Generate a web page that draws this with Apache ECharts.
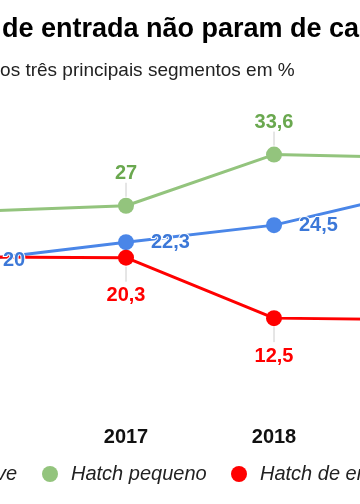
<!DOCTYPE html>
<html>
<head>
<meta charset="utf-8">
<script src="https://cdn.jsdelivr.net/npm/echarts@6/dist/echarts.min.js"></script>
<style>
html,body{margin:0;padding:0;width:360px;height:504px;overflow:hidden;background:#fff;}
#chart{position:absolute;left:-100px;top:0;width:560px;height:504px;}
</style>
</head>
<body>
<div id="chart"></div>
<script>
// ---- data ----
var years = ['2016', '2017', '2018', '2019'];
var seriesNames = ['SUV leve', 'Hatch pequeno', 'Hatch de entrada'];
var blueValues = [20, 22.3, 24.5, 29];
var greenValues = [26.3, 27, 33.6, 33.2];
var redValues = [20.4, 20.3, 12.5, 12.3];
var titleText = 'de entrada não param de cair';
var subtitleText = 'dos três principais segmentos em %';

var FONT = '"Liberation Sans", Arial, sans-serif';
var BLUE = '#4a86e8', BLUE_L = '#3c78d8';
var GREEN = '#93c47d', GREEN_L = '#6aa84f';
var RED = '#ff0000';

function fmt(p) { return String(p.value).replace('.', ','); }

function lineSeries(name, data, color, labelColor, pos, dist) {
  return {
    name: name, type: 'line', data: data, z: 3,
    symbol: 'circle', symbolSize: 16,
    itemStyle: { color: color },
    lineStyle: { color: color, width: 3 },
    label: {
      show: true, position: pos, distance: dist, formatter: fmt,
      color: labelColor, fontFamily: FONT, fontWeight: 'bold', fontSize: 20,
      textBorderColor: '#fff', textBorderWidth: 2
    },
    emphasis: { disabled: true },
    animation: false
  };
}

function guideSeries(data, from, to) {
  return {
    type: 'custom', z: 1, silent: true, animation: false,
    data: data.map(function (v, i) { return [i, v]; }),
    renderItem: function (params, api) {
      var p = api.coord([api.value(0), api.value(1)]);
      return {
        type: 'line',
        shape: { x1: p[0], y1: p[1] + from, x2: p[0], y2: p[1] + to },
        style: { stroke: '#cccccc', lineWidth: 1 }
      };
    }
  };
}

function legendFor(name, pos) {
  return Object.assign({
    data: [name], top: 464, padding: 0, icon: 'circle',
    itemWidth: 16, itemHeight: 16,
    selectedMode: false,
    textStyle: { fontFamily: FONT, fontStyle: 'italic', fontSize: 20, color: '#222', padding: [0, 0, 0, 8] }
  }, pos);
}

var chart = echarts.init(document.getElementById('chart'), null, { renderer: 'canvas' });
chart.setOption({
  backgroundColor: '#fff',
  title: [
    { text: titleText, left: 102, top: 16, padding: 0,
      textStyle: { fontFamily: FONT, fontWeight: 'bold', fontSize: 27, color: '#000' } },
    { text: subtitleText, left: 89.5, top: 61, padding: 0,
      textStyle: { fontFamily: FONT, fontWeight: 'normal', fontSize: 19, color: '#222' } }
  ],
  legend: [
    legendFor(seriesNames[0], { right: 443 }),
    legendFor(seriesNames[1], { left: 142 }),
    legendFor(seriesNames[2], { left: 331 })
  ],
  grid: { left: 78, right: 38, top: 105, bottom: 89, containLabel: false },
  xAxis: {
    type: 'category', data: years, boundaryGap: false,
    axisLine: { show: false }, axisTick: { show: false }, splitLine: { show: false },
    axisLabel: { margin: 12, fontFamily: FONT, fontWeight: 'bold', fontSize: 20, color: '#111' }
  },
  yAxis: { type: 'value', min: 0, max: 40, show: false },
  series: [
    lineSeries(seriesNames[0], blueValues, BLUE, BLUE_L, 'right', 17),
    lineSeries(seriesNames[1], greenValues, GREEN, GREEN_L, 'top', 14),
    lineSeries(seriesNames[2], redValues, RED, RED, 'bottom', 20),
    guideSeries(greenValues, -23, -9),
    guideSeries(redValues, 9, 24)
  ]
});
</script>
</body>
</html>
